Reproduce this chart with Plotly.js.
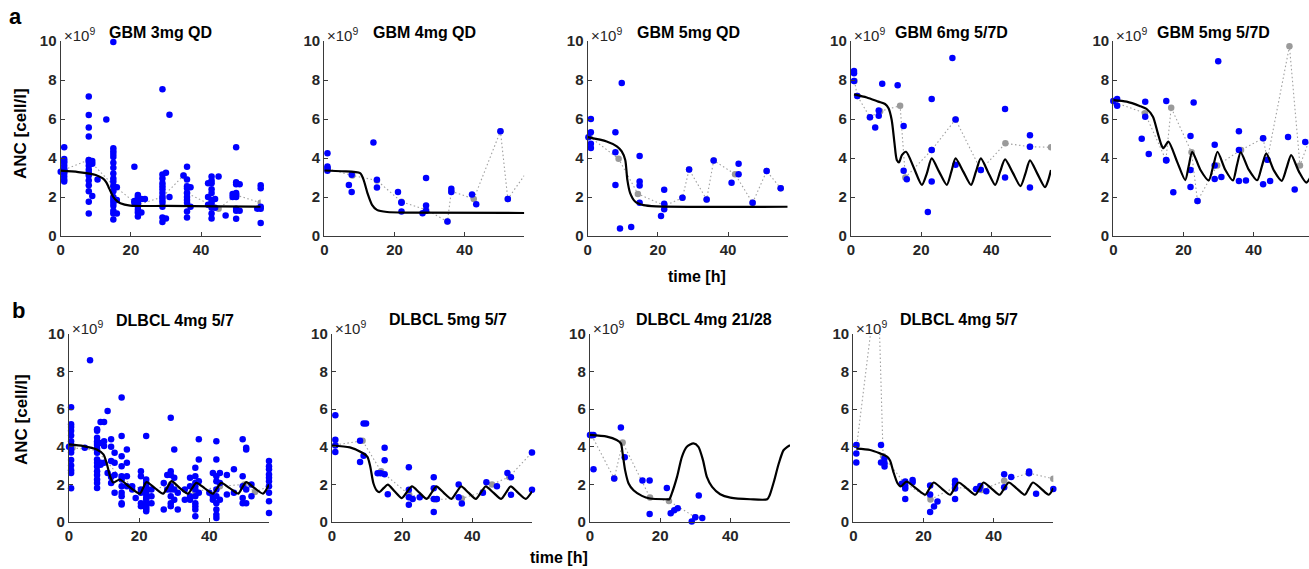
<!DOCTYPE html>
<html><head><meta charset="utf-8">
<script src="https://cdn.plot.ly/plotly-3.0.1.min.js"></script>
<style>html,body{margin:0;padding:0;background:#fff}#chart{width:1309px;height:569px}</style>
</head><body><div id="chart"></div>
<script>
// ---------------- DATA ----------------
const panelTitles = ["GBM 3mg QD", "GBM 4mg QD", "GBM 5mg QD", "GBM 6mg 5/7D", "GBM 5mg 5/7D",
  "DLBCL 4mg 5/7", "DLBCL 5mg 5/7", "DLBCL 4mg 21/28", "DLBCL 4mg 5/7"];
const xTickVals = [0, 20, 40];
const yTickVals = [0, 2, 4, 6, 8, 10];
const yLabel = "ANC [cell/l]";
const xLabel = "time [h]";
const expLabel = "×10<sup>9</sup>";

// Patient observations: sampling times and the values observed at each time (×10^9 cell/l)
const a1Times = [0, 1, 8, 9, 10.5, 13, 15, 16, 21, 22, 23, 24, 29, 30, 31, 35, 36, 37, 42, 43, 44, 45, 47, 49, 50, 51, 56, 57];
const a1Obs = [[3.3], [4.55, 3.95, 3.85, 3.75, 3.6, 3.45, 3.35, 3.3, 3.2, 3.05, 2.9, 2.8],
  [7.15, 6.2, 5.57, 5.1, 3.9, 3.8, 3.6, 3.4, 3.25, 3.1, 2.85, 2.6, 2.3, 1.75, 1.15], [3.85, 3.7, 2.05], [2.9], [5.98],
  [9.95, 4.5, 4.35, 4.2, 4.05, 3.75, 3.5, 3.2, 2.95, 2.8, 2.55, 2.3, 2.0, 1.85, 1.7, 1.55, 1.3, 1.15, 0.85], [2.5, 1.85, 1.15],
  [3.55, 1.8, 1.7], [2.1, 2.0, 1.9, 1.8, 1.75, 1.6, 1.5, 1.35, 1.2, 1.0], [1.9, 1.2], [1.9],
  [7.53, 3.15, 2.95, 2.7, 2.55, 2.4, 2.2, 2.0, 1.85, 1.7, 1.5, 0.95, 0.72], [3.25, 0.9], [6.22, 2.0], [3.1],
  [3.55, 2.9, 2.55, 2.45, 2.2, 2.0, 1.85, 1.7, 1.25, 0.95], [2.5, 1.5], [2.7, 2.0, 1.6],
  [3.05, 2.85, 2.7, 2.4, 2.2, 1.85, 1.7, 1.45, 1.15, 0.9], [1.9, 1.45], [3.05], [1.05], [2.15, 2.0],
  [4.55, 2.75, 2.65, 2.2, 2.1, 2.0, 1.4, 1.3, 0.88], [2.65, 1.3], [1.4], [2.6, 2.45, 1.5, 1.4, 0.67]];
const a2Times = [0.9, 7, 7.8, 14, 15, 21, 22, 28, 29, 35.1, 36.2, 42.1, 43.3, 50.2, 52.3];
const a2Obs = [[4.24, 3.57, 3.48, 3.35], [2.62], [3.14, 2.25], [4.79], [2.88, 2.49], [2.26], [1.73, 1.7, 1.25], [1.17],
  [2.97, 1.56, 1.3], [0.74], [2.42, 2.25], [2.13], [1.63], [5.37], [1.9]];
const a3Times = [0.2, 0.9, 7.9, 9.2, 9.7, 12.4, 14.8, 20.9, 21.8, 27, 28.9, 33.9, 35.9, 41, 43, 47, 51, 55];
const a3Obs = [[5.06], [6.0, 5.32, 4.73, 4.51], [5.32, 4.3, 2.62], [0.39], [7.85], [0.46], [4.1, 2.8, 2.59, 1.71], [1.03],
  [2.37, 1.65, 1.37], [1.96], [3.41], [1.87], [3.87], [2.73], [3.7, 3.17], [1.7], [3.33], [2.45]];
const a4Times = [0.86, 1.8, 5.4, 6.9, 7.9, 8.9, 13.3, 15, 15.9, 21.9, 23, 28.9, 29.8, 37, 43.9, 51];
const a4Obs = [[8.46, 8.34, 7.95], [7.18], [6.09], [5.57], [6.44, 6.17], [7.81], [7.73], [5.64, 3.35], [2.91], [1.23],
  [7.03, 4.41, 2.79], [9.13], [5.98, 3.65], [3.38], [6.51, 3.0], [5.17, 4.58, 2.49]];
const a5Times = [0, 1.1, 8.1, 9.1, 10.1, 15.1, 17.1, 22, 22.9, 24, 28.9, 29.9, 30.8, 35.8, 37.8, 42.7, 43.9, 44.7, 49.8, 51.7, 54.7];
const a5Obs = [[6.92], [7.02, 6.68], [4.99], [6.89, 6.12], [4.2], [6.92, 3.9, 3.87], [2.24], [5.13, 3.38, 2.51], [6.85], [1.79],
  [4.68, 3.62, 2.92], [8.96], [3.03], [5.37, 4.41, 2.82], [2.85], [5.01, 2.65], [3.91], [2.82], [5.08], [2.38], [4.82]];
const b1Times = [0, 0.6, 4.5, 6, 8, 9, 10, 11, 12, 13, 15, 16.5, 18, 19, 20.5, 22, 23.5, 27, 28, 29, 30, 31, 33, 34.5, 36, 37,
  40, 41, 42, 43, 45, 47, 49.5, 50.5, 52, 57];
const b1Obs = [[4.0], [6.1, 5.2, 5.05, 4.85, 4.6, 4.3, 4.1, 3.85, 3.7, 3.3, 3.0, 2.75, 2.6, 1.8], [3.95], [8.6],
  [4.93, 4.85, 4.48, 4.3, 4.2, 4.1, 3.9, 3.68, 3.33, 3.15, 2.95, 2.7, 2.5, 2.26, 2.08, 1.81], [5.32, 4.2, 3.15, 3.05],
  [5.32, 4.3, 4.04, 3.15], [5.9, 2.6], [4.4, 4.0, 3.24, 2.4, 2.08], [3.68, 3.15, 2.5, 1.55],
  [6.62, 4.57, 3.5, 2.97, 2.44, 2.26, 1.9, 1.55, 1.37, 1.0, 0.93], [3.86, 3.15, 2.44, 1.9], [1.9, 1.73], [1.28],
  [2.7, 2.44, 1.73, 1.55, 1.0, 0.84], [4.57, 2.26, 2.08, 1.9, 1.73, 1.64, 1.46, 1.28, 1.19, 1.0, 0.84, 0.75, 0.66, 0.57],
  [1.73, 1.37, 1.0], [2.08, 0.66], [2.5, 1.73], [5.55, 2.7, 2.5, 1.9, 1.73, 1.37, 1.0, 0.84], [3.86, 2.35, 1.73, 1.19],
  [1.55, 0.66], [1.73, 1.19], [2.35, 1.9, 1.37, 1.19], [2.88, 2.44, 2.08, 1.9, 1.73, 1.37, 1.0, 0.84, 0.66, 0.3],
  [4.4, 3.33, 2.17, 1.55], [1.55], [2.6, 1.37, 1.19], [4.3, 3.33, 2.44, 2.17, 1.73, 1.37, 1.0, 0.66, 0.39, 0.21],
  [2.6, 2.08, 1.19], [2.5, 1.46], [2.8, 1.55], [4.4, 2.44, 1.9, 1.28, 1.0], [3.95, 3.86, 1.73, 1.0], [1.99, 1.37],
  [3.24, 2.97, 2.8, 2.53, 2.35, 2.17, 1.9, 1.55, 1.1, 0.48]];
const b2Times = [0.95, 8, 9, 9.7, 13, 13.9, 15, 15.9, 21.9, 23, 25, 29, 29.9, 36.1, 37, 43, 44, 47, 50, 51, 57];
const b2Obs = [[5.68, 4.37, 4.07, 3.72], [4.32, 3.19], [5.24, 3.53], [5.24], [2.59], [2.59], [3.95, 3.28, 2.54], [1.48],
  [2.91, 1.71, 1.32, 0.92], [1.23], [1.32], [2.38, 1.8, 1.23, 0.53], [1.23], [1.99, 1.32], [0.99], [1.55], [2.12], [1.9],
  [2.61], [2.38, 1.45], [3.7, 1.71]];
const b3Times = [0, 0.5, 1, 6.9, 8.8, 9.9, 14.95, 17, 21.9, 23, 24, 25, 29, 30, 31, 32];
const b3Obs = [[4.63], [4.63], [4.63, 2.81], [2.31], [5.02], [3.45], [2.21], [2.21, 0.43], [1.81], [0.46], [0.62], [0.73],
  [0.02], [0.25], [1.41], [0.21]];
const b4Times = [0.86, 7.9, 8.9, 13.8, 14.8, 16.9, 21.9, 23, 24, 29, 35, 35.9, 36.2, 37.9, 43, 45, 50.1, 52.1, 57];
const b4Obs = [[4.09, 3.65, 3.16], [4.09, 3.16], [3.39, 3.12, 2.95], [2.03], [2.15, 1.92, 1.78, 1.22], [2.24, 2.12],
  [1.94, 1.46, 0.53], [0.83], [1.09], [2.2, 2.01, 1.78, 1.23], [1.75], [1.75], [1.92], [1.64], [2.54, 1.85], [2.4],
  [2.68, 2.59], [1.5], [1.76]];

// Summary (grey dotted) series
const a1MeanT = [1, 8, 15, 22, 29, 35, 36, 43, 45, 50, 57];
const a1MeanV = [3.4, 3.9, 2.6, 1.6, 2.0, 3.1, 2.2, 1.6, 1.4, 2.1, 1.7];
const a2MeanT = [1, 8, 15, 22, 29, 35.1, 36.2, 42.6, 50.2, 52.3, 57];
const a2MeanV = [3.45, 3.1, 2.85, 1.75, 1.35, 0.74, 2.3, 1.9, 5.37, 1.9, 3.1];
const a3MeanT = [0.5, 8.8, 14.3, 22, 27, 28.9, 33.9, 35.9, 42, 47, 51, 55];
const a3MeanV = [5.1, 3.96, 2.16, 1.55, 1.96, 3.41, 1.87, 3.87, 3.17, 1.7, 3.33, 2.45];
const a4MeanT = [1, 1.8, 5.4, 8.3, 14, 15.5, 23, 29.8, 37, 44, 51, 57];
const a4MeanV = [7.95, 7.18, 6.09, 6.4, 6.68, 3.0, 4.41, 5.98, 3.38, 4.75, 4.58, 4.55];
const a5MeanT = [0.5, 9, 15, 16.5, 22.3, 24, 29.6, 36.4, 42.7, 43.9, 50.2, 53.2, 56];
const a5MeanV = [6.85, 6.3, 3.9, 6.58, 4.29, 1.79, 3.62, 4.41, 5.01, 3.91, 9.73, 3.62, 5.0];
const b1MeanT = [1, 8, 15, 22, 29, 36, 43, 50, 53, 57];
const b1MeanV = [3.95, 3.8, 2.3, 1.6, 2.0, 1.6, 1.9, 2.0, 1.6, 1.9];
const b2MeanT = [1, 8.7, 14, 22, 29.5, 37, 43, 45.6, 50.5, 57];
const b2MeanV = [4.1, 4.32, 2.7, 1.45, 1.2, 1.25, 1.6, 2.0, 2.4, 3.7];
const b3MeanT = [0.5, 6.9, 9.3, 17.1, 22.5, 30];
const b3MeanV = [4.6, 2.31, 4.23, 1.3, 1.12, 0.25];
const b4MeanT = [1, 7, 8.5, 14.5, 22, 29, 36.5, 43, 50, 57];
const b4MeanV = [4.1, 13.2, 3.5, 2.1, 1.2, 1.85, 1.7, 2.19, 2.6, 2.3];

// Model prediction (black) curves
const a1ModelT = [0, 5, 10, 12, 13, 13.6, 14.3, 15, 16, 17, 19.8, 30, 45, 57];
const a1ModelV = [3.35, 3.28, 3.13, 2.95, 2.75, 2.53, 2.25, 2.0, 1.8, 1.68, 1.56, 1.54, 1.52, 1.5];
const a2ModelT = [0, 5, 10.2, 11.2, 12.3, 13.6, 15, 17.9, 25, 57];
const a2ModelV = [3.36, 3.32, 3.22, 2.88, 2.2, 1.6, 1.34, 1.23, 1.2, 1.18];
const a3ModelT = [0, 5.4, 8.3, 9.7, 10.7, 11.3, 12.1, 13.5, 15.9, 19.5, 57];
const a3ModelV = [5.07, 4.85, 4.6, 4.34, 3.9, 2.88, 2.2, 1.77, 1.58, 1.52, 1.5];
const a4ModelT = [0.86, 4.5, 7.8, 9.7, 10.7, 11.6, 12.4, 13.05, 13.7, 14.5, 15.7, 17.9, 20.2, 21.6, 23, 25.1, 27.3, 28.6, 29.8,
  32, 34.2, 35.6, 37, 39, 41.1, 42.5, 43.9, 46.1, 48.3, 49.7, 51, 53.1, 55.3, 56.2, 57];
const a4ModelV = [7.26, 7.1, 6.89, 6.77, 6.55, 5.95, 4.75, 3.9, 3.78, 4.15, 4.32, 3.5, 2.62, 3.2, 3.98, 3.3, 2.62, 3.3, 3.98,
  3.3, 2.62, 3.3, 3.98, 3.3, 2.62, 3.3, 3.93, 3.25, 2.56, 3.2, 3.88, 3.2, 2.5, 2.85, 3.38];
const a5ModelT = [0, 3.8, 7.5, 9.6, 11.3, 12.7, 13.7, 14.3, 15.7, 18.2, 20.5, 21.5, 22.5, 24.8, 27.2, 28.5, 29.7, 31.9, 34.1,
  35.2, 36.3, 38.6, 41, 42.3, 43.6, 45.8, 48, 49.4, 50.7, 52.9, 55, 57];
const a5ModelV = [6.97, 6.89, 6.67, 6.5, 6.12, 5.26, 4.67, 4.5, 4.84, 3.8, 2.87, 3.6, 4.32, 3.4, 2.85, 3.6, 4.32, 3.4, 2.85,
  3.6, 4.29, 3.4, 2.86, 3.55, 4.24, 3.35, 2.83, 3.5, 4.15, 3.3, 2.74, 3.3];
const b1ModelT = [0, 4.1, 7.9, 9.8, 10.7, 11.7, 12.6, 14.5, 17.3, 20.2, 21.1, 22.1, 24.5, 26.8, 28, 29.2, 31.5, 33.9, 35.1,
  36.3, 38.6, 41, 42.2, 43.4, 45.8, 48.2, 49.3, 50.5, 52.9, 55.3, 57];
const b1ModelV = [4.13, 4.04, 3.86, 3.6, 3.15, 2.44, 2.1, 2.26, 1.85, 1.51, 1.8, 2.12, 1.8, 1.51, 1.82, 2.17, 1.82, 1.51, 1.8,
  2.08, 1.8, 1.51, 1.8, 2.08, 1.8, 1.51, 1.8, 2.12, 1.8, 1.51, 1.99];
const b2ModelT = [0, 5.1, 8.5, 10.1, 10.9, 11.8, 12.8, 13.5, 14.7, 15.9, 17.9, 19.9, 21.3, 22.8, 24.9, 27, 28.4, 29.7, 31.8,
  34, 35.4, 36.8, 38.9, 41, 42.4, 43.8, 46, 48.2, 49.6, 50.9, 53, 55.2, 57];
const b2ModelV = [4.07, 3.97, 3.7, 3.47, 2.95, 2.06, 1.66, 1.59, 1.8, 1.99, 1.62, 1.27, 1.58, 1.89, 1.56, 1.23, 1.56, 1.89, 1.56,
  1.23, 1.56, 1.89, 1.56, 1.23, 1.56, 1.89, 1.56, 1.23, 1.56, 1.89, 1.56, 1.23, 1.62];
const b3ModelT = [0, 4.8, 7.6, 8.8, 9.3, 10, 11, 12.4, 14.8, 17.1, 21.9, 22.6, 23.3, 24.8, 26.2, 27.6, 29.5, 30.9, 32.2, 33.3,
  34.8, 37.1, 40, 45.7, 50.5, 51.2, 52.4, 53.8, 55.2, 57];
const b3ModelV = [4.63, 4.54, 4.36, 4.18, 3.65, 2.76, 2.05, 1.69, 1.39, 1.25, 1.21, 1.21, 1.51, 2.4, 3.47, 4.0, 4.18, 4.0, 3.29,
  2.4, 1.87, 1.48, 1.3, 1.21, 1.21, 1.42, 2.14, 3.11, 3.83, 4.09];
const b4ModelT = [0.86, 4.8, 7.6, 9.7, 10.5, 11.4, 12.6, 13.5, 15.2, 17.8, 20.5, 21.7, 22.9, 25.2, 27.6, 28.8, 30, 32.4, 34.8,
  36, 37.1, 39.4, 41.7, 43, 44.3, 46.6, 48.9, 50, 51.2, 53.5, 55.7, 57];
const b4ModelV = [3.9, 3.83, 3.65, 3.47, 3.26, 2.68, 2.06, 1.89, 2.15, 1.8, 1.45, 1.78, 2.1, 1.78, 1.45, 1.78, 2.1, 1.78, 1.45,
  1.78, 2.1, 1.78, 1.45, 1.78, 2.1, 1.78, 1.45, 1.78, 2.1, 1.78, 1.45, 1.8];

// ---------------- BUILD ----------------
const W = 1309, H = 569;
const FONT = "Liberation Sans, Arial, Helvetica, sans-serif";
const panels = [
  {t: a1Times, o: a1Obs, mt: a1MeanT, mv: a1MeanV, ct: a1ModelT, cv: a1ModelV},
  {t: a2Times, o: a2Obs, mt: a2MeanT, mv: a2MeanV, ct: a2ModelT, cv: a2ModelV},
  {t: a3Times, o: a3Obs, mt: a3MeanT, mv: a3MeanV, ct: a3ModelT, cv: a3ModelV},
  {t: a4Times, o: a4Obs, mt: a4MeanT, mv: a4MeanV, ct: a4ModelT, cv: a4ModelV},
  {t: a5Times, o: a5Obs, mt: a5MeanT, mv: a5MeanV, ct: a5ModelT, cv: a5ModelV},
  {t: b1Times, o: b1Obs, mt: b1MeanT, mv: b1MeanV, ct: b1ModelT, cv: b1ModelV},
  {t: b2Times, o: b2Obs, mt: b2MeanT, mv: b2MeanV, ct: b2ModelT, cv: b2ModelV},
  {t: b3Times, o: b3Obs, mt: b3MeanT, mv: b3MeanV, ct: b3ModelT, cv: b3ModelV},
  {t: b4Times, o: b4Obs, mt: b4MeanT, mv: b4MeanV, ct: b4ModelT, cv: b4ModelV}
];
// pixel geometry: left, top(y=10), bottom(y=0), title centre x, title y
const geom = [
  [60.7, 41, 236, 160, 32], [324.3, 41, 236, 424, 32], [587.7, 41, 236, 688, 32], [851, 41, 236, 951, 32], [1113.3, 41, 236, 1213, 32],
  [69, 334, 522, 175, 320], [332, 334, 522, 448, 319], [590, 334, 522, 704, 319], [853.3, 334, 522, 959, 319]
];
const PW = 200, XMAX = 57;

const traces = [];
const layout = {
  width: W, height: H, margin: {l: 0, r: 0, t: 0, b: 0},
  paper_bgcolor: '#fff', plot_bgcolor: 'rgba(0,0,0,0)',
  showlegend: false, font: {family: FONT, color: '#262626'},
  annotations: []
};

panels.forEach((p, i) => {
  const n = i + 1;
  const xa = n === 1 ? 'x' : 'x' + n, ya = n === 1 ? 'y' : 'y' + n;
  const [L, T, B, tx, ty] = geom[i];
  const R = Math.min(L + PW, W);
  const xEnd = XMAX * (R - L) / PW;
  const bx = [], by = [];
  p.t.forEach((tt, k) => p.o[k].forEach(v => { bx.push(tt); by.push(v); }));
  traces.push({x: p.mt, y: p.mv, xaxis: xa, yaxis: ya, type: 'scatter', mode: 'lines+markers',
    line: {color: '#a0a0a0', width: 1.1, dash: '1.5px,2.5px'}, marker: {color: '#9a9a9a', size: 6.5}, hoverinfo: 'skip'});
  traces.push({x: bx, y: by, xaxis: xa, yaxis: ya, type: 'scatter', mode: 'markers', cliponaxis: false,
    marker: {color: '#0000ff', size: 6.5}});
  traces.push({x: p.ct, y: p.cv, xaxis: xa, yaxis: ya, type: 'scatter', mode: 'lines',
    line: {color: '#000', width: 2.2, shape: 'spline', smoothing: 0.7}});
  const axCommon = {showline: true, linecolor: '#3a3a3a', linewidth: 1.2, ticks: 'inside', ticklen: 4, tickcolor: '#3a3a3a',
    showgrid: false, zeroline: false, fixedrange: true,
    tickfont: {family: FONT, size: 15, color: '#262626', weight: 'bold'}};
  layout[n === 1 ? 'xaxis' : 'xaxis' + n] = Object.assign({}, axCommon, {
    domain: [L / W, R / W], range: [0, xEnd], tickvals: xTickVals, anchor: ya});
  layout[n === 1 ? 'yaxis' : 'yaxis' + n] = Object.assign({}, axCommon, {
    domain: [(H - B) / H, (H - T) / H], range: [0, 10], tickvals: yTickVals, anchor: xa});
  layout.annotations.push({xref: 'paper', yref: 'paper', x: tx / W, y: 1 - ty / H, xanchor: 'center', yanchor: 'middle',
    text: panelTitles[i], showarrow: false, font: {family: FONT, size: 16, color: '#000', weight: 'bold'}});
  layout.annotations.push({xref: 'paper', yref: 'paper', x: (L + 1) / W, y: 1 - (T - 7) / H, xanchor: 'left', yanchor: 'middle',
    text: expLabel, showarrow: false, font: {family: FONT, size: 15, color: '#262626'}});
});

// y labels, panel letters, x labels
[[21, 134], [21, 420]].forEach(([x, y]) => layout.annotations.push({xref: 'paper', yref: 'paper', x: x / W, y: 1 - y / H,
  xanchor: 'center', yanchor: 'middle', textangle: -90, text: yLabel, showarrow: false,
  font: {family: FONT, size: 17, color: '#000', weight: 'bold'}}));
[['a', 15, 16], ['b', 18, 310]].forEach(([s, x, y]) => layout.annotations.push({xref: 'paper', yref: 'paper', x: x / W, y: 1 - y / H,
  xanchor: 'center', yanchor: 'middle', text: s, showarrow: false, font: {family: FONT, size: 22, color: '#000', weight: 'bold'}}));
[[697, 276], [559, 557]].forEach(([x, y]) => layout.annotations.push({xref: 'paper', yref: 'paper', x: x / W, y: 1 - y / H,
  xanchor: 'center', yanchor: 'middle', text: xLabel, showarrow: false, font: {family: FONT, size: 16, color: '#000', weight: 'bold'}}));

Plotly.newPlot('chart', traces, layout, {staticPlot: true, displayModeBar: false});
</script>
</body></html>
